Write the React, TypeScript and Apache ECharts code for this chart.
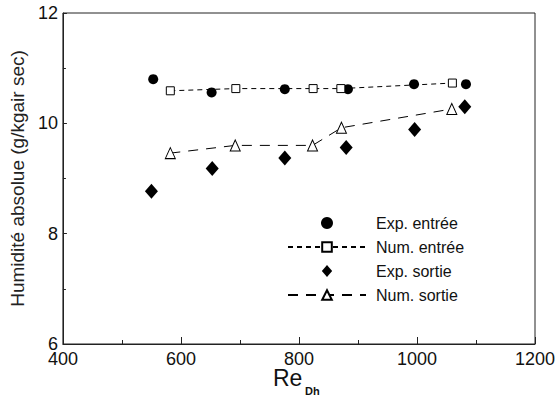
import React, { useEffect, useRef } from "react";
import * as echarts from "echarts";

const expEntreeX = [553, 652, 776, 883, 995, 1083];
const expEntreeY = [10.8, 10.56, 10.62, 10.62, 10.71, 10.71];

const numEntreeX = [582, 693, 824, 871, 1060];
const numEntreeY = [10.59, 10.63, 10.63, 10.63, 10.73];

const expSortieX = [550, 653, 776, 880, 996, 1081];
const expSortieY = [8.77, 9.18, 9.37, 9.56, 9.89, 10.3];

const numSortieX = [582, 692, 823, 872, 1059];
const numSortieY = [9.46, 9.6, 9.6, 9.92, 10.26];

const xTicks = [400, 600, 800, 1000, 1200];
const yTicks = [6, 8, 10, 12];

const seriesNames = ["Exp. entrée", "Num. entrée", "Exp. sortie", "Num. sortie"];

const zip = (xs: number[], ys: number[]) => xs.map((x, i) => [x, ys[i]]);

export default function App() {
  const ref = useRef<HTMLDivElement>(null);
  useEffect(() => {
    document.body.style.margin = "0";
    const chart = echarts.init(ref.current!, undefined, { renderer: "svg" });
    const font = "'Liberation Sans', Arial, sans-serif";
    chart.setOption({
      animation: false,
      backgroundColor: "#ffffff",
      grid: {
        left: 57,
        top: 13,
        right: 25,
        bottom: 54,
        show: true,
        borderColor: "#222",
        borderWidth: 1,
        backgroundColor: "transparent",
      },
      xAxis: {
        type: "value",
        min: xTicks[0],
        max: xTicks[xTicks.length - 1],
        interval: 200,
        axisLine: { show: true, lineStyle: { color: "#222", width: 1 } },
        axisTick: { show: true, inside: true, length: 7, lineStyle: { color: "#222" } },
        minorTick: { show: true, splitNumber: 2, length: 4, lineStyle: { color: "#222" } },
        splitLine: { show: false },
        axisLabel: {
          color: "#111",
          fontSize: 18,
          fontFamily: font,
          margin: 6,
          formatter: (v: number) => String(v),
        },
      },
      yAxis: {
        type: "value",
        min: yTicks[0],
        max: yTicks[yTicks.length - 1],
        interval: 2,
        name: "Humidité absolue (g/kgair sec)",
        nameLocation: "middle",
        nameGap: 28,
        nameTextStyle: { color: "#222", fontSize: 19, fontFamily: font },
        axisLine: { show: true, lineStyle: { color: "#222", width: 1 } },
        axisTick: { show: true, inside: true, length: 4, lineStyle: { color: "#222" } },
        minorTick: { show: true, splitNumber: 2, length: 3, lineStyle: { color: "#222" } },
        splitLine: { show: false },
        axisLabel: {
          color: "#111",
          fontSize: 18,
          fontFamily: font,
          margin: 5,
          formatter: (v: number) => String(v),
        },
      },
      legend: {
        orient: "vertical",
        left: 282,
        top: 210,
        itemWidth: 78,
        itemHeight: 12,
        itemGap: 8,
        symbolKeepAspect: true,
        selectedMode: false,
        data: [
          { name: seriesNames[0] },
          { name: seriesNames[1] },
          { name: seriesNames[2], icon: "path://M6,0L12,7L6,14L0,7Z" },
          { name: seriesNames[3] },
        ],
        textStyle: {
          color: "#111",
          fontSize: 16,
          lineHeight: 16,
          fontFamily: font,
          padding: [0, 0, 0, 5],
        },
      },
      graphic: [
        {
          type: "text",
          x: 273,
          y: 378,
          style: { text: "Re", font: `23px ${font}`, fill: "#111", verticalAlign: "middle" },
        },
        {
          type: "text",
          x: 305,
          y: 391,
          style: { text: "Dh", font: `bold 11px ${font}`, fill: "#111", verticalAlign: "middle" },
        },
      ],
      series: [
        {
          name: seriesNames[0],
          type: "scatter",
          symbol: "circle",
          symbolSize: 10,
          itemStyle: { color: "#000", opacity: 1 },
          data: zip(expEntreeX, expEntreeY),
        },
        {
          name: seriesNames[1],
          type: "line",
          symbol: "rect",
          symbolSize: 8,
          showAllSymbol: true,
          itemStyle: { color: "#fff", borderColor: "#000", borderWidth: 1, opacity: 1 },
          lineStyle: { color: "#000", width: 1, type: [5, 4] },
          data: zip(numEntreeX, numEntreeY),
        },
        {
          name: seriesNames[2],
          type: "scatter",
          symbol: "diamond",
          symbolSize: [13, 15],
          itemStyle: { color: "#000", opacity: 1 },
          data: zip(expSortieX, expSortieY),
        },
        {
          name: seriesNames[3],
          type: "line",
          symbol: "triangle",
          symbolSize: [10, 11],
          showAllSymbol: true,
          itemStyle: { color: "#fff", borderColor: "#000", borderWidth: 1, opacity: 1 },
          lineStyle: { color: "#000", width: 1, type: [10, 8] },
          data: zip(numSortieX, numSortieY),
        },
      ],
    });
    return () => chart.dispose();
  }, []);
  return <div ref={ref} style={{ width: 560, height: 398, position: "absolute", left: 0, top: 0 }} />;
}
